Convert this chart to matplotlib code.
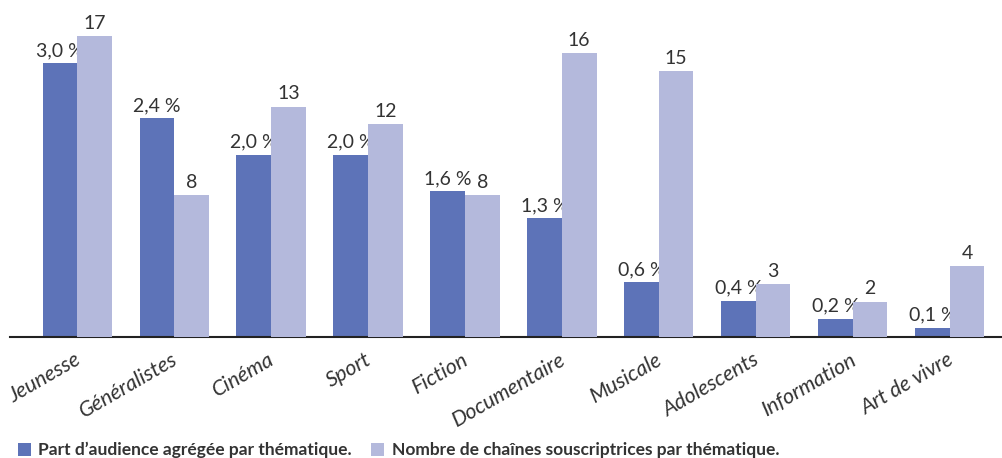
import numpy as np
import matplotlib.pyplot as plt

plt.rcParams['font.family'] = ['Lato', 'DejaVu Sans']

themes = ['Jeunesse', 'Généralistes', 'Cinéma', 'Sport', 'Fiction',
          'Documentaire', 'Musicale', 'Adolescents', 'Information', 'Art de vivre']
audience = [3.0, 2.4, 2.0, 2.0, 1.6, 1.3, 0.6, 0.4, 0.2, 0.1]
chaines = [17, 8, 13, 12, 8, 16, 15, 3, 2, 4]

c_dark = '#5d73b8'
c_light = '#b4b9dc'
txt = '#333333'

fig = plt.figure(figsize=(10.03, 4.58), dpi=100)
ax = fig.add_axes([10/1003, 121/458, 993/1003, 317/458])
ax2 = ax.twinx()

x = np.arange(len(themes))
w = 0.357

b1 = ax.bar(x - w/2, audience, w, color=c_dark, zorder=2)
b2 = ax2.bar(x + w/2, chaines, w, color=c_light, zorder=2)

ax.set_xlim(-0.693, 9.55)
ax.set_ylim(0, 317/91.2)
ax2.set_ylim(0, 317/17.72)

for a in (ax, ax2):
    for s in ['top', 'right', 'left']:
        a.spines[s].set_visible(False)
    a.set_yticks([])
ax2.spines['bottom'].set_visible(False)
ax.spines['bottom'].set_color('#222222')
ax.spines['bottom'].set_linewidth(1.5)

for xi, v in zip(x, audience):
    ax.annotate(('%.1f %%' % v).replace('.', ','), (xi - w/2, v),
                xytext=(0, 3), textcoords='offset points',
                ha='center', va='bottom', fontsize=14, color=txt)
for xi, v in zip(x, chaines):
    ax2.annotate(str(v), (xi + w/2, v),
                 xytext=(0, 3), textcoords='offset points',
                 ha='center', va='bottom', fontsize=14, color=txt)

ax.set_xticks(x - 0.03)
ax.set_xticklabels(themes, rotation=30, ha='right', rotation_mode='anchor',
                   fontsize=15.5, style='italic', color=txt)
ax.tick_params(axis='x', length=0, pad=9)

fig.legend([b1, b2],
           ['Part d\u2019audience agrégée par thématique.',
            'Nombre de chaînes souscriptrices par thématique.'],
           loc='lower left', bbox_to_anchor=(0.002, -0.035), ncol=2,
           frameon=False, handlelength=0.75, handleheight=0.75,
           handletextpad=0.45, columnspacing=1.1,
           prop={'size': 12.5, 'weight': 'bold'}, labelcolor=txt)

fig.savefig('out.png', dpi=100)
